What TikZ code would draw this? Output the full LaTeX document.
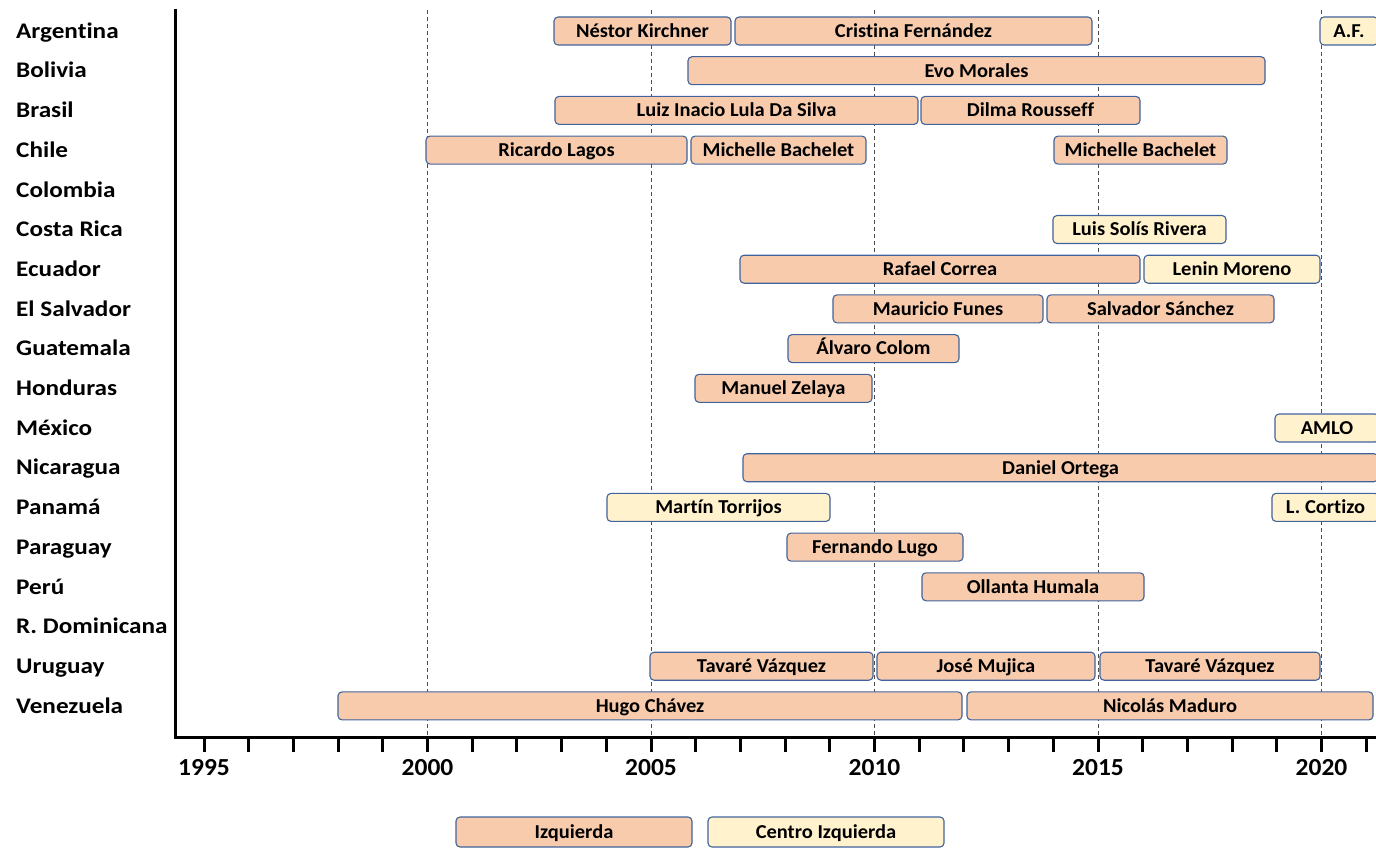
\documentclass[tikz,border=0pt]{standalone}
\usepackage{fontspec}
\setmainfont[Ligatures=NoCommon]{Carlito}
\newfontfamily\paisfont[Ligatures=NoCommon, FakeStretch=1.13]{Carlito}
\newfontfamily\barfont[Ligatures=NoCommon, FakeStretch=1.04]{Carlito}
\definecolor{izqfill}{HTML}{F8CBAD}
\definecolor{cizqfill}{HTML}{FFF2CC}
\definecolor{barline}{HTML}{41639C}
\tikzset{
  bar/.style={draw=barline, line width=1.1pt, rounded corners=4pt, minimum height=28pt,
    inner sep=0pt, text height=12.7pt, text depth=0pt,
    font=\barfont\fontsize{19.7}{21}\selectfont\bfseries},
  izq/.style={bar, fill=izqfill},
  cizq/.style={bar, fill=cizqfill},
  pais/.style={anchor=west, inner sep=0pt, text height=14.4pt, text depth=0pt,
    font=\paisfont\fontsize{22.3}{24}\selectfont\bfseries},
  anio/.style={inner sep=0pt, text height=15.5pt, text depth=0pt,
    font=\barfont\fontsize{24.5}{26}\selectfont\bfseries},
  eje/.style={line width=3pt, black},
  guia/.style={dashed, dash pattern=on 4pt off 3pt, line width=0.8pt, black!70},
}
\begin{document}
\begin{tikzpicture}[x=1pt, y=-1pt]
            \useasboundingbox (0,0) rectangle (1376,848);
            \clip (0,0) rectangle (1376,848);

            % Líneas guía cada 5 años
            \foreach \a in {2000,2005,...,2020} {
                \draw[guia] ({204+(\a-1995)*44.7},10) -- ({204+(\a-1995)*44.7},737);
            }

            % Ejes
            \draw[eje] (175,9) -- (175,737) -- (1376,737);
            \foreach \a in {1995,...,2021} {
                \draw[eje] ({204+(\a-1995)*44.7},737) -- ++(0,15);
            }
            \foreach \a in {1995,2000,...,2020} {
                \node[anio] (a\a) at ({204+(\a-1995)*44.7},768) {\a};
            }

            % Países
            \foreach \nm [count=\i from 0] in {Argentina, Bolivia, Brasil, Chile, Colombia, Costa Rica,
                Ecuador, El Salvador, Guatemala, Honduras, México, Nicaragua, Panamá, Paraguay,
                Perú, R. Dominicana, Uruguay, Venezuela} {
                \node[pais] (p\i) at (16, {31+\i*39.7}) {\nm};
            }

            % Gobiernos
            \foreach \id/\r/\xa/\xb/\sty/\lbl in {
                kirchner/0/554/731/izq/Néstor Kirchner,
                cristina/0/735/1092/izq/Cristina Fernández,
                af/0/1320/1378/cizq/A.F.,
                evo/1/688/1265/izq/Evo Morales,
                lula/2/555/918/izq/Luiz Inacio Lula Da Silva,
                dilma/2/921/1140/izq/Dilma Rousseff,
                lagos/3/426/687/izq/Ricardo Lagos,
                bacheletA/3/691/866/izq/Michelle Bachelet,
                bacheletB/3/1054/1227/izq/Michelle Bachelet,
                solis/5/1053/1226/cizq/Luis Solís Rivera,
                correa/6/740/1140/izq/Rafael Correa,
                moreno/6/1144/1320/cizq/Lenin Moreno,
                funes/7/833/1043/izq/Mauricio Funes,
                sanchez/7/1047/1274/izq/Salvador Sánchez,
                colom/8/788/959/izq/Álvaro Colom,
                zelaya/9/695/872/izq/Manuel Zelaya,
                amlo/10/1275/1379/cizq/AMLO,
                ortega/11/743/1378/izq/Daniel Ortega,
                torrijos/12/607/830/cizq/Martín Torrijos,
                cortizo/12/1272/1379/cizq/L. Cortizo,
                lugo/13/787/963/izq/Fernando Lugo,
                humala/14/922/1144/izq/Ollanta Humala,
                vazquezA/16/650/873/izq/Tavaré Vázquez,
                mujica/16/877/1095/izq/José Mujica,
                vazquezB/16/1100/1320/izq/Tavaré Vázquez,
                chavez/17/338/962/izq/Hugo Chávez,
                maduro/17/967/1373/izq/Nicolás Maduro} {
                \node[\sty, minimum width={\xb-\xa}] (\id) at ({(\xa+\xb)/2},{31+\r*39.7}) {\lbl};
            }

            % Leyenda
            \node[izq, minimum width=236pt, minimum height=30pt] (ley-izq) at (574,832) {Izquierda};
            \node[cizq, minimum width=236pt, minimum height=30pt] (ley-cizq) at (826,832) {Centro Izquierda};
        \end{tikzpicture}
\end{document}
